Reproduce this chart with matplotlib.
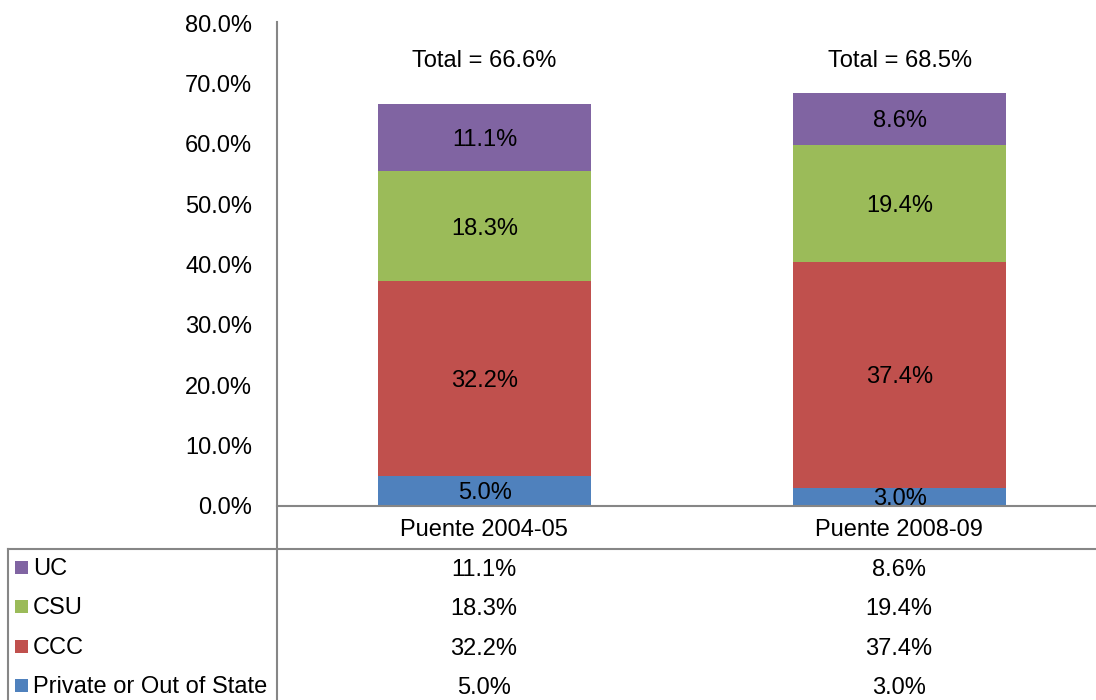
import matplotlib
matplotlib.use("Agg")
import matplotlib.pyplot as plt
from matplotlib.lines import Line2D
from matplotlib.patches import Rectangle
from matplotlib.transforms import offset_copy

plt.rcParams['font.family'] = ['Liberation Sans', 'DejaVu Sans']

categories = ["Puente 2004-05", "Puente 2008-09"]
series_names = ["Private or Out of State", "CCC", "CSU", "UC"]
private = [5.0, 3.0]
ccc = [32.2, 37.4]
csu = [18.3, 19.4]
uc = [11.1, 8.6]
totals = [66.6, 68.5]
colors = {"Private or Out of State": "#4F81BD", "CCC": "#C0504D", "CSU": "#9BBB59", "UC": "#8064A2"}
yticks = [0, 10, 20, 30, 40, 50, 60, 70, 80]

W, H = 1096, 700
FS = 17
fig = plt.figure(figsize=(W / 100, H / 100), dpi=100)

def fx(px):
    return px / W

def fy(py):
    return 1 - py / H

ax_left, ax_right, ax_top, ax_bot = 277, 1096, 23, 506
ax = fig.add_axes([fx(ax_left), fy(ax_bot), fx(ax_right - ax_left), (ax_bot - ax_top) / H])
ax.set_xlim(-0.5, 1.473)
ax.set_ylim(0, 80)
for s in ["top", "right", "left", "bottom"]:
    ax.spines[s].set_visible(False)
ax.set_xticks([])
ax.set_yticks(yticks)
ax.set_yticklabels([f"{v:.1f}%" for v in yticks], fontsize=FS)
ax.tick_params(axis='y', length=0, pad=18)

label_tr = offset_copy(ax.transData, fig=fig, x=0, y=-2.5, units='dots')

x = [0, 1]
data = {"Private or Out of State": private, "CCC": ccc, "CSU": csu, "UC": uc}
bottoms = [0.0, 0.0]
bw = 0.513
for name in series_names:
    vals = data[name]
    ax.bar(x, vals, bw, bottom=bottoms, color=colors[name], edgecolor='none', zorder=2)
    for i, v in enumerate(vals):
        ax.text(x[i], bottoms[i] + v / 2, f"{v:.1f}%", ha='center', va='center', fontsize=FS,
                color='black', zorder=3, transform=label_tr)
    bottoms = [b + v for b, v in zip(bottoms, vals)]

for i, t in enumerate(totals):
    ax.text(x[i], 74.2, f"Total = {t:.1f}%", ha='center', va='center', fontsize=FS, transform=label_tr)

grey = "#868686"
fig.add_artist(Line2D([fx(277), fx(277)], [fy(22), fy(700)], color=grey, lw=1.5))
fig.add_artist(Line2D([fx(277), fx(1096)], [fy(506), fy(506)], color=grey, lw=1.5))
fig.add_artist(Line2D([fx(8), fx(1096)], [fy(549), fy(549)], color=grey, lw=1.5))
fig.add_artist(Line2D([fx(8), fx(8)], [fy(549), fy(700)], color=grey, lw=1.5))

cat_centers = [484, 899]
for cx, c in zip(cat_centers, categories):
    fig.text(fx(cx), fy(530), c, ha='center', va='center', fontsize=FS)

row_order = ["UC", "CSU", "CCC", "Private or Out of State"]
row_y = [569, 608, 648, 687]
for name, ry in zip(row_order, row_y):
    fig.add_artist(Rectangle((fx(15), fy(ry + 5)), 13 / W, 13 / H, transform=fig.transFigure,
                             facecolor=colors[name], edgecolor='none'))
    fig.text(fx(33), fy(ry), name, ha='left', va='center', fontsize=FS)
    for cx, v in zip(cat_centers, data[name]):
        fig.text(fx(cx), fy(ry + 1), f"{v:.1f}%", ha='center', va='center', fontsize=FS)

fig.savefig("out.png", dpi=100)
